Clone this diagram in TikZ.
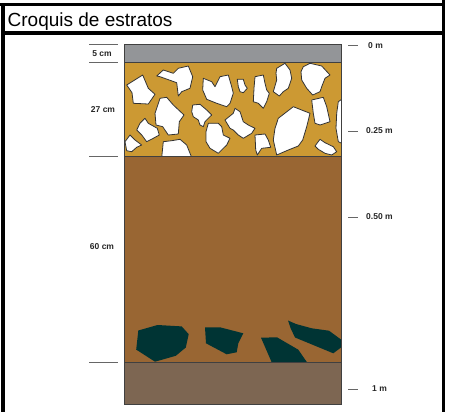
\documentclass[tikz,border=0pt]{standalone}
\usepackage{fontspec}
\setmainfont{Liberation Sans}
\definecolor{topgray}{RGB}{147,149,152}
\definecolor{gravel}{RGB}{204,153,51}
\definecolor{loam}{RGB}{153,102,51}
\definecolor{bedrock}{RGB}{125,102,82}
\definecolor{stonedark}{RGB}{0,52,52}
\begin{document}
\begin{tikzpicture}[x=1pt,y=-1pt,
  frame/.style={line width=3.1pt,black},
  layer/.style={draw=black!75,line width=0.8pt},
  stone/.style={fill=white,draw=black!80,line width=0.8pt,line join=round},
  pebble/.style={fill=stonedark},
  tick/.style={draw=black!60,line width=0.8pt},
  lbl/.style={font=\fontsize{8.5}{10}\selectfont\bfseries,inner sep=0pt,text=black!85}]
\useasboundingbox (0,0) rectangle (452,412);

% outer frame and title bar
\draw[frame] (0,4.7) -- (445,4.7);
\draw[frame] (443.5,0) -- (443.5,412);
\draw[frame] (3,3.5) -- (3,412);
\draw[frame] (3,33) -- (443.5,33);
\node[anchor=base west,font=\fontsize{19}{22}\selectfont,inner sep=0pt] (title) at (7.5,26.6) {Croquis de estratos};

% soil layers
\fill[topgray] (124.5,44.7) rectangle (341.5,62.7);
\fill[gravel]  (124.5,62.7) rectangle (341.5,156.7);
\fill[loam]    (124.5,156.7) rectangle (341.5,362.3);
\fill[bedrock] (124.5,362.3) rectangle (341.5,404.3);

% stones in the gravel layer
\begin{scope}
\clip (124.5,62.7) rectangle (341.5,156.7);
\draw[stone] (126.7,85) -- (142.7,75) -- (148.3,88.3) -- (155,94.3) -- (148.3,104) -- (133.3,103.3) -- (132,92.7) -- cycle;
\draw[stone] (156.7,76) -- (163.3,70) -- (173.3,73.3) -- (178.3,68.3) -- (188.3,66) -- (192.7,76.7) -- (190,88.3) -- (181.7,91.7) -- (178.3,96) -- (176.7,82.7) -- (160,76.7) -- cycle;
\draw[stone] (160,98.3) -- (166.7,97.3) -- (173.3,105) -- (184,115) -- (179.3,121.7) -- (178.3,134) -- (168.3,135) -- (162.7,126.7) -- (156,125) -- (155,113.3) -- cycle;
\draw[stone] (145,118.3) -- (148.3,123.3) -- (157.3,128.3) -- (159.3,135) -- (153.3,138.3) -- (146.7,141.7) -- (141.7,135) -- (136.7,130) -- (140,123.3) -- cycle;
\draw[stone] (130,135) -- (135,140) -- (141.7,145) -- (136.7,147.3) -- (131.7,151.7) -- (126.7,150.7) -- (125,141.7) -- cycle;
\draw[stone] (163.3,141.7) -- (171.7,140.7) -- (180,139.3) -- (186.7,145) -- (191.7,157.5) -- (161.7,157.5) -- cycle;
\draw[stone] (192.7,105) -- (200,104.3) -- (206.7,110) -- (211.7,115) -- (208.3,118.3) -- (205,121.7) -- (203.3,126.7) -- (200,125) -- (198.3,120) -- (193.3,116.7) -- (191.7,111.7) -- cycle;
\draw[stone] (203.3,78.3) -- (211.7,81.7) -- (215,86.7) -- (220,76.7) -- (228.3,75) -- (231.7,86.7) -- (233.3,93.3) -- (230,103.3) -- (226.7,106.7) -- (216.7,103.3) -- (206.7,99.3) -- (202.7,90) -- cycle;
\draw[stone] (208.3,123.3) -- (218.3,123.3) -- (221.7,126.7) -- (223.3,135) -- (230,138.3) -- (226.7,145) -- (218.3,153.3) -- (210,148.3) -- (206,141.7) -- (206,131.7) -- cycle;
\draw[stone] (225,120) -- (233.3,113.3) -- (235,108.3) -- (240,111.7) -- (243.3,121.7) -- (248.3,125) -- (255,128.3) -- (251.7,133.3) -- (243.3,138.3) -- (238.3,135) -- (233.3,130) -- (230,128.3) -- cycle;
\draw[stone] (237.3,79.3) -- (243.3,79.3) -- (245,85) -- (247.3,88.3) -- (243.3,92.7) -- (240,91.7) -- (238.3,86.7) -- cycle;
\draw[stone] (255,76.7) -- (263.3,75) -- (265,83.3) -- (266.7,90) -- (269.3,93.3) -- (266.7,101.7) -- (263.3,108.3) -- (258.3,103.3) -- (253.3,101.7) -- (254,88.3) -- cycle;
\draw[stone] (276.7,68.3) -- (285,63.3) -- (290,70) -- (291.7,78.3) -- (288.3,88.3) -- (283.3,91.7) -- (279.3,96) -- (273.3,91.7) -- (276.7,80) -- (276,73.3) -- cycle;
\draw[stone] (303.3,66.7) -- (310,63.3) -- (321.7,66) -- (330,75) -- (325,78.3) -- (321.7,86.7) -- (320,91.7) -- (312.7,95) -- (306.7,88.3) -- (301.7,80) -- (301,71.7) -- cycle;
\draw[stone] (311.7,100) -- (323.3,97.3) -- (326.7,106.7) -- (330,121.7) -- (320,125) -- (315,123.3) -- (313.3,113.3) -- cycle;
\draw[stone] (278.3,118.3) -- (293.3,106.7) -- (310,113.3) -- (306.7,126.7) -- (302.7,140) -- (298.3,146) -- (288.3,150) -- (276.7,155) -- (273.3,140) -- (275,128.3) -- cycle;
\draw[stone] (255,135) -- (265,134) -- (268.3,140) -- (270.7,147.3) -- (261.7,148.3) -- (257.3,155) -- (255.7,150) -- cycle;
\draw[stone] (315,146) -- (320,139.3) -- (325,142.7) -- (333.3,146.7) -- (336.7,151.7) -- (331.7,155) -- (325,153.3) -- (318.3,149.3) -- cycle;
\draw[stone] (338.3,101.7) -- (341.7,99.3) -- (343,99.3) -- (343,143.3) -- (341.7,143.3) -- (338.3,141.7) -- (336,128.3) -- (336.7,113.3) -- cycle;
\end{scope}

% dark pebbles in the loam layer
\begin{scope}
\clip (124.5,156.7) rectangle (341.5,362.3);
\fill[pebble] (138.3,330.5) -- (157.5,325) -- (181.7,326.4) -- (188.7,334.2) -- (185.8,347.5) -- (175.8,355.8) -- (155,361.7) -- (136.2,349.6) -- cycle;
\fill[pebble] (205,327.3) -- (220,327.3) -- (243.3,333.3) -- (238.3,343.3) -- (236.7,352.3) -- (226.7,354.3) -- (206,343.3) -- cycle;
\fill[pebble] (261,337.7) -- (277,337.3) -- (298.3,349.7) -- (307,362.3) -- (271.7,362.3) -- cycle;
\fill[pebble] (288,320.5) -- (296,324) -- (311.7,328.3) -- (329,330.7) -- (343,341) -- (343,346) -- (333.3,353.3) -- (295,337.5) -- (290.5,328) -- cycle;
\end{scope}

% layer outlines
\draw[layer] (124.5,44.7) rectangle (341.5,404.3);
\draw[layer] (124.5,62.7) -- (341.5,62.7);
\draw[layer] (124.5,156.7) -- (341.5,156.7);
\draw[layer] (124.5,362.3) -- (341.5,362.3);

% thickness scale on the left
\coordinate (ta0) at (89,44.7);  \coordinate (tb0) at (118,44.7);
\coordinate (ta1) at (89,62.7);  \coordinate (tb1) at (118,62.7);
\coordinate (ta2) at (89,156.7); \coordinate (tb2) at (118,156.7);
\coordinate (ta3) at (89,362.3); \coordinate (tb3) at (118,362.3);
\draw[tick] (ta0) -- (tb0);
\draw[tick] (ta1) -- (tb1);
\draw[tick] (ta2) -- (tb2);
\draw[tick] (ta3) -- (tb3);
\node[lbl] (t5)  at (102,54)  {5 cm};
\node[lbl] (t27) at (103,110) {27 cm};
\node[lbl] (t60) at (102,247) {60 cm};

% depth scale on the right
\coordinate (da0) at (348,45.5);  \coordinate (db0) at (358,45.5);
\coordinate (da1) at (348,131);   \coordinate (db1) at (358,131);
\coordinate (da2) at (348,217);   \coordinate (db2) at (358,217);
\coordinate (da3) at (348,389);   \coordinate (db3) at (358,389);
\draw[tick] (da0) -- (db0);
\draw[tick] (da1) -- (db1);
\draw[tick] (da2) -- (db2);
\draw[tick] (da3) -- (db3);
\node[lbl,anchor=west] (d0)  at (368,45.5) {0 m};
\node[lbl,anchor=west] (d25) at (366,131)  {0.25 m};
\node[lbl,anchor=west] (d50) at (366,217)  {0.50 m};
\node[lbl,anchor=west] (d1)  at (372,389)  {1 m};
\end{tikzpicture}
\end{document}
